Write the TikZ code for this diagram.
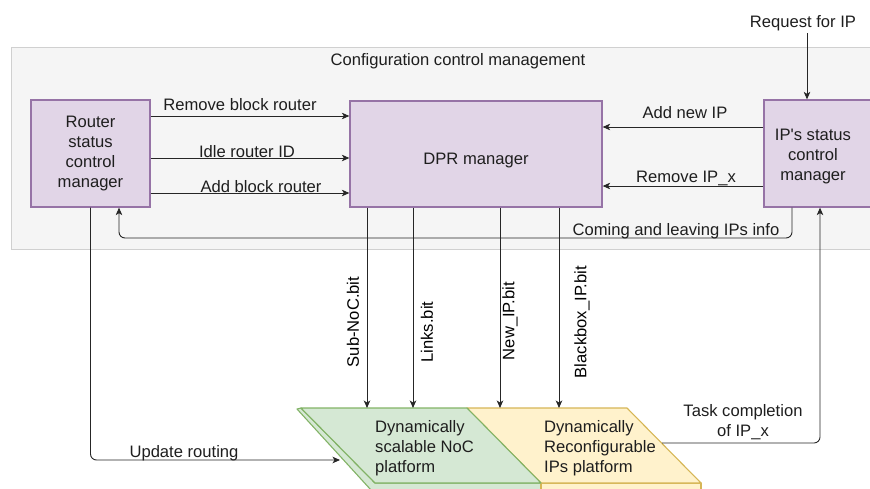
\documentclass[tikz,border=0pt]{standalone}
\usepackage{fontspec}
\setmainfont{Liberation Sans}
\usetikzlibrary{arrows.meta}

\definecolor{cfgfill}{HTML}{F5F5F5}
\definecolor{cfgline}{HTML}{D0D0D0}
\definecolor{mgrfill}{HTML}{E1D5E7}
\definecolor{mgrline}{HTML}{9673A6}
\definecolor{nocfill}{HTML}{D5E8D4}
\definecolor{nocline}{HTML}{82B366}
\definecolor{ipfill}{HTML}{FFF2CC}
\definecolor{ipline}{HTML}{D6B656}
\definecolor{txt}{HTML}{1E1E1E}

\tikzset{
  mgr/.style={draw=mgrline, fill=mgrfill, line width=1.3pt, inner sep=0pt},
  lbl/.style={font=\fontsize{16.6}{20}\selectfont, text=txt, inner sep=0pt},
  vlbl/.style={font=\fontsize{16.6}{20}\selectfont, text=black, inner sep=0pt, rotate=90},
  conn/.style={draw=black!85, line width=0.9pt,
    -{Stealth[length=7.5pt,width=6.5pt,inset=2pt]}},
}

\begin{document}
\begin{tikzpicture}[x=1pt,y=-1pt]
\useasboundingbox (0,0) rectangle (870,488);

% configuration control area
\path[fill=cfgfill, draw=cfgline, line width=0.9pt] (11,47) rectangle (885,249);
\node[lbl, anchor=base] (cfg) at (458,65) {Configuration control management};

% managers
\node[mgr, minimum width=119pt, minimum height=107pt, align=center,
      font=\fontsize{16.6}{20}\selectfont, text=txt] (router) at (90.5,153.5)
      {Router\\status\\control\\manager};
\node[mgr, minimum width=252pt, minimum height=106pt] (dpr) at (476,154) {};
\node[lbl] (dprtext) at (476,161) {DPR manager};
\node[mgr, minimum width=112pt, minimum height=107pt] (ip) at (820,153.5) {};
\node[lbl, align=center] (iptext) at (813,157) {IP\textquotesingle s status\\control\\manager};

% platforms: slanted slabs with a thin front edge
\path[fill=nocfill, draw=nocline, line width=1.1pt, line join=round]
  (301,408) -- (297,409) -- (371,490) -- (541,490) -- (541,483) -- (375,483) -- cycle;
\path[fill=ipfill, draw=ipline, line width=1.1pt, line join=round]
  (541,483) -- (541,490) -- (701,490) -- (701,483) -- cycle;
\path[fill=ipfill, draw=ipline, line width=1.1pt, line join=round]
  (467,408) -- (627,408) -- (701,483) -- (541,483) -- cycle;
\path[fill=nocfill, draw=nocline, line width=1.1pt, line join=round]
  (301,408) -- (467,408) -- (541,483) -- (375,483) -- cycle;
\node[lbl, align=left, anchor=west] (noc) at (375,448)
  {Dynamically\\scalable NoC\\platform};
\node[lbl, align=left, anchor=west] (ips) at (544,448)
  {Dynamically\\Reconfigurable\\IPs platform};

% anchor points on the platforms and around the managers
\coordinate (subIn) at (367,408);
\coordinate (lnkIn) at (413,408);
\coordinate (newIn) at (500,408);
\coordinate (bbxIn) at (559,408);
\coordinate (updIn) at (340,460);
\coordinate (updC)  at (90.5,460);
\coordinate (tcOut) at (662,443);
\coordinate (tcC)   at (820,443);
\coordinate (clR)   at (792,238);
\coordinate (clL)   at (119,238);
\coordinate (req)   at (807,33);

% router -> DPR
\draw[conn] ([yshift=37.5pt]router.east) -- ([yshift=37.5pt]router.east -| dpr.west);
\draw[conn] ([yshift=-4.5pt]router.east) -- ([yshift=-4.5pt]router.east -| dpr.west);
\draw[conn] ([yshift=-39.5pt]router.east) -- ([yshift=-39.5pt]router.east -| dpr.west);
\node[lbl, anchor=base] at (240,110) {Remove block router};
\node[lbl, anchor=base] at (247,157) {Idle router ID};
\node[lbl, anchor=base] at (261,192) {Add block router};

% IP manager -> DPR
\draw[conn] ([yshift=26.5pt]ip.west) -- ([yshift=26.5pt]ip.west -| dpr.east);
\draw[conn] ([yshift=-32.5pt]ip.west) -- ([yshift=-32.5pt]ip.west -| dpr.east);
\node[lbl, anchor=base] at (685,118) {Add new IP};
\node[lbl, anchor=base] at (686,182) {Remove IP\_x};

% request
\node[lbl, anchor=base] (reqtext) at (803,27) {Request for IP};
\draw[conn] (req) -- (ip.north -| req);

% feedback to router
\draw[conn, rounded corners=6pt] (ip.south -| clR) -- (clR) -- (clL) -- (router.south -| clL);
\node[lbl, anchor=base] at (676,235) {Coming and leaving IPs info};

% bitstreams
\draw[conn] (dpr.south -| subIn) -- (subIn);
\draw[conn] (dpr.south -| lnkIn) -- (lnkIn);
\draw[conn] (dpr.south -| newIn) -- (newIn);
\draw[conn] (dpr.south -| bbxIn) -- (bbxIn);
\node[vlbl] at (353,322) {Sub-NoC.bit};
\node[vlbl] at (427,332) {Links.bit};
\node[vlbl] at (510,321) {New\_IP.bit};
\node[vlbl] at (582,322) {Blackbox\_IP.bit};

% routing update and task completion
\draw[conn, rounded corners=6pt] (router.south) -- (updC) -- (updIn);
\node[lbl, anchor=base] at (184,457) {Update routing};
\draw[conn, rounded corners=6pt] (tcOut) -- (tcC) -- (ip.south -| tcC);
\node[lbl, align=center] at (743,422) {Task completion\\of IP\_x};
\end{tikzpicture}
\end{document}
